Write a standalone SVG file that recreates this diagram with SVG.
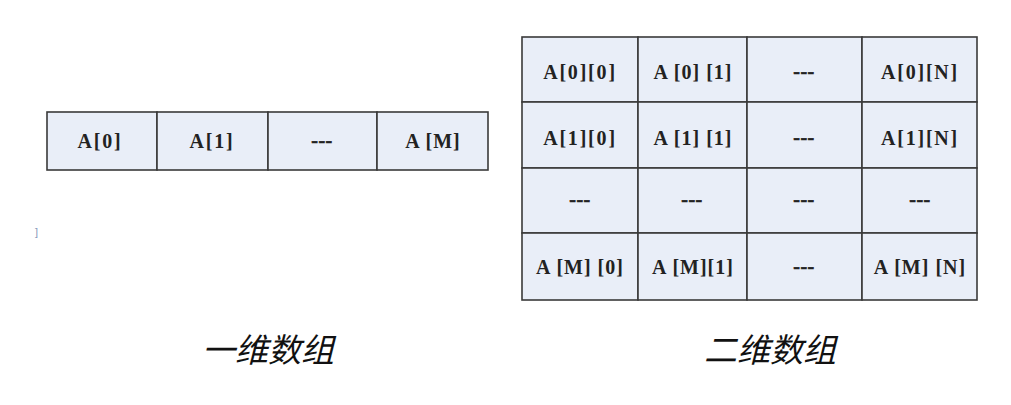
<svg xmlns="http://www.w3.org/2000/svg" width="1011" height="405" viewBox="0 0 1011 405">
<style>
.c{fill:#e9eef8;stroke:#3a3a3a;stroke-width:1.6}
.t{font-family:"Liberation Serif",serif;font-weight:bold;font-size:20px;letter-spacing:1.8px;fill:#222;text-anchor:middle;dominant-baseline:central}
.s{letter-spacing:1px}
.d{letter-spacing:0.5px;stroke:#222;stroke-width:0.6}
.cap{font-family:"Noto Sans CJK SC",sans-serif;font-style:italic;font-size:33px;fill:#111;text-anchor:middle}
</style>
<rect width="1011" height="405" fill="#fff"/>
<g id="arr1d">
<rect class="c" x="47" y="112" width="110" height="58"/>
<rect class="c" x="157" y="112" width="111" height="58"/>
<rect class="c" x="268" y="112" width="109" height="58"/>
<rect class="c" x="377" y="112" width="111" height="58"/>
<text class="t" x="100" y="141">A[0]</text>
<text class="t" x="212" y="141">A[1]</text>
<text class="t d" x="322" y="140">---</text>
<text class="t s" x="433" y="141">A [M]</text>
</g>
<g id="arr2d">
<rect class="c" x="522" y="37" width="116" height="65"/>
<rect class="c" x="638" y="37" width="109" height="65"/>
<rect class="c" x="747" y="37" width="115" height="65"/>
<rect class="c" x="862" y="37" width="115" height="65"/>
<rect class="c" x="522" y="102" width="116" height="66"/>
<rect class="c" x="638" y="102" width="109" height="66"/>
<rect class="c" x="747" y="102" width="115" height="66"/>
<rect class="c" x="862" y="102" width="115" height="66"/>
<rect class="c" x="522" y="168" width="116" height="65"/>
<rect class="c" x="638" y="168" width="109" height="65"/>
<rect class="c" x="747" y="168" width="115" height="65"/>
<rect class="c" x="862" y="168" width="115" height="65"/>
<rect class="c" x="522" y="233" width="116" height="67"/>
<rect class="c" x="638" y="233" width="109" height="67"/>
<rect class="c" x="747" y="233" width="115" height="67"/>
<rect class="c" x="862" y="233" width="115" height="67"/>
<text class="t" x="580" y="72">A[0][0]</text>
<text class="t s" x="693" y="72">A [0] [1]</text>
<text class="t d" x="804" y="71">---</text>
<text class="t" x="920" y="72">A[0][N]</text>
<text class="t" x="580" y="138">A[1][0]</text>
<text class="t s" x="693" y="138">A [1] [1]</text>
<text class="t d" x="804" y="137">---</text>
<text class="t" x="920" y="138">A[1][N]</text>
<text class="t d" x="580" y="199">---</text>
<text class="t d" x="692" y="199">---</text>
<text class="t d" x="804" y="199">---</text>
<text class="t d" x="920" y="199">---</text>
<text class="t s" x="580" y="267">A [M] [0]</text>
<text class="t s" x="693" y="267">A [M][1]</text>
<text class="t d" x="804" y="266">---</text>
<text class="t s" x="920" y="267">A [M] [N]</text>
</g>
<text x="35" y="236" font-family="Liberation Sans,sans-serif" font-size="11" fill="#8899bb">]</text>
<text class="cap" x="268" y="362">一维数组</text>
<text class="cap" x="770" y="362">二维数组</text>
</svg>
